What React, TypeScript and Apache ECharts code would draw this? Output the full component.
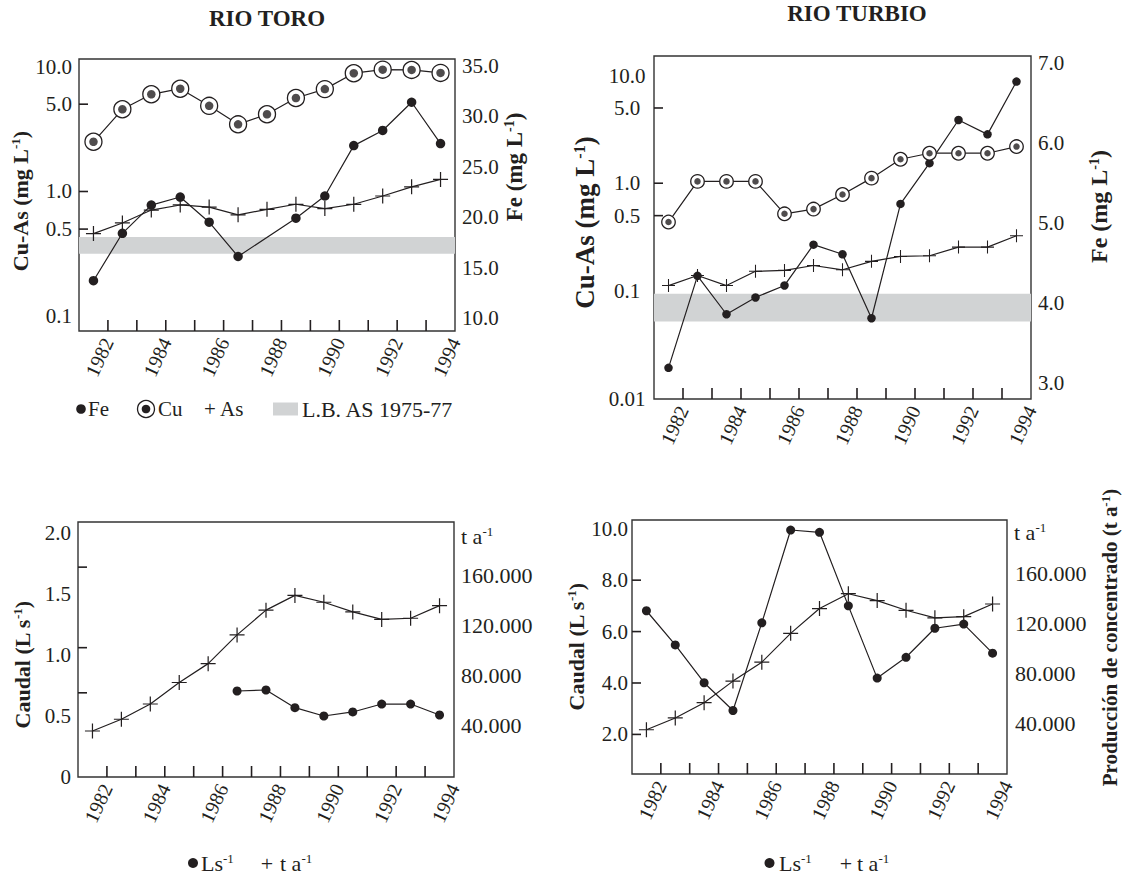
import React, { useEffect, useRef } from 'react';
import * as echarts from 'echarts';

// ---------- data ----------
const years = [1982, 1983, 1984, 1985, 1986, 1987, 1988, 1989, 1990, 1991, 1992, 1993, 1994];
const yearLabels = [1982, 1984, 1986, 1988, 1990, 1992, 1994];

// Rio Toro (mg/L)
const toroFe = [13.7, 18.4, 21.2, 22.0, 19.5, 16.1, null, 19.9, 22.1, 27.1, 28.6, 31.4, 27.3];
const toroCu = [2.5, 4.55, 6.0, 6.65, 4.85, 3.45, 4.15, 5.6, 6.6, 8.85, 9.45, 9.4, 8.9];
const toroAs = [0.46, 0.56, 0.71, 0.78, 0.75, 0.65, 0.72, 0.79, 0.73, 0.79, 0.92, 1.09, 1.25];
const toroBand = [0.318, 0.432];

// Rio Turbio (mg/L)
const turbioFe = [3.19, 4.34, 3.86, 4.07, 4.22, 4.73, 4.61, 3.81, 5.24, 5.75, 6.29, 6.11, 6.77];
const turbioCu = [0.436, 1.04, 1.04, 1.04, 0.52, 0.575, 0.786, 1.115, 1.67, 1.9, 1.9, 1.9, 2.19];
const turbioAs = [0.112, 0.139, 0.112, 0.152, 0.155, 0.172, 0.157, 0.188, 0.209, 0.212, 0.255, 0.255, 0.325];
const turbioBand = [0.052, 0.094];

// Caudal (L/s)
const toroCaudal = [null, null, null, null, null, 0.705, 0.713, 0.568, 0.5, 0.533, 0.598, 0.598, 0.508];
const turbioCaudal = [6.81, 5.48, 4.01, 2.93, 6.34, 9.95, 9.86, 7.0, 4.19, 5.0, 6.13, 6.29, 5.16];

// Producción de concentrado (t/a)
const produccion = [35200, 44600, 56800, 74000, 89100, 112100, 131900, 143700, 138200, 130500, 124500, 125400, 135500];

// axis tick labels
const cuAsLabelsToro = [0.1, 0.5, 1, 5, 10];
const cuAsLabelsTurbio = [0.01, 0.1, 0.5, 1, 5, 10];
const feLabelsToro = [10, 15, 20, 25, 30, 35];
const feLabelsTurbio = [3, 4, 5, 6, 7];
const caudalLabelsToro = [0, 0.5, 1, 1.5, 2];
const caudalLabelsTurbio = [2, 4, 6, 8, 10];
const prodLabels = [40000, 80000, 120000, 160000];

// inner tick marks on the left axes
const cuAsTicks = [0.5, 1, 5];
const caudalTicksToro = [0.69, 1.06, 1.72];
const caudalTicksTurbio = [2, 4, 6, 8];

// ---------- style ----------
const FONT = "'Liberation Serif', 'Times New Roman', Times, serif";
const INK = '#231f20';
const BAND = '#d1d3d4';
const PLUS = 'path://M7.35,0H8.65V7.35H16V8.65H8.65V16H7.35V8.65H0V7.35H7.35Z';

const pairs = (vals: (number | null)[]) => years.map((y, i) => [y, vals[i]]);
// ticks sit between consecutive years
const yearTicks = years.slice(0, years.length - 1).map((y) => y + 0.5);

const richBold = (size: number) => ({
  b: { fontFamily: FONT, fontWeight: 'bold', fontSize: size, color: INK },
  s: { fontFamily: FONT, fontWeight: 'bold', fontSize: Math.round(size * 0.6), color: INK, verticalAlign: 'top' },
});

const fmt1 = (v: number) => v.toFixed(1);

const xAxis = (g: number) => ({
  type: 'value',
  gridIndex: g,
  position: 'bottom',
  min: 1981.5,
  max: 1994.5,
  axisLine: { show: false, onZero: false },
  splitLine: { show: false },
  axisTick: { show: false },
  axisLabel: {
    customValues: yearLabels.map((y) => y + 0.5),
    formatter: (v: number) => String(Math.floor(v)),
    rotate: 65,
    margin: 8,
    fontFamily: FONT,
    fontSize: 20,
    color: INK,
  },
});

const yBase = (g: number, pos: 'left' | 'right') => ({
  gridIndex: g,
  position: pos,
  axisLine: { show: false },
  splitLine: { show: false },
  axisTick: { show: false },
  nameLocation: 'middle',
  nameRotate: 90,
});

const labelStyle = { fontFamily: FONT, fontSize: 21, color: INK };

const lineCommon = {
  type: 'line',
  silent: true,
  lineStyle: { color: INK, width: 1.2 },
  z: 3,
};

const dotSeries = (name: string, xi: number, yi: number, vals: (number | null)[], size: number) => ({
  ...lineCommon,
  name,
  xAxisIndex: xi,
  yAxisIndex: yi,
  data: pairs(vals),
  connectNulls: true,
  symbol: 'circle',
  symbolSize: size,
  itemStyle: { color: INK, borderWidth: 0 },
});

const plusSeries = (name: string, xi: number, yi: number, vals: number[], size: number) => ({
  ...lineCommon,
  name,
  xAxisIndex: xi,
  yAxisIndex: yi,
  data: pairs(vals),
  symbol: PLUS,
  symbolSize: size,
  itemStyle: { color: INK, borderWidth: 0 },
});

const ringSeries = (name: string, xi: number, yi: number, vals: number[], ring: number, dot: number) => [
  {
    ...lineCommon,
    name,
    xAxisIndex: xi,
    yAxisIndex: yi,
    data: pairs(vals),
    symbol: 'circle',
    symbolSize: ring,
    itemStyle: { color: '#ffffff', borderColor: INK, borderWidth: 1.3 },
  },
  {
    type: 'scatter',
    name,
    silent: true,
    xAxisIndex: xi,
    yAxisIndex: yi,
    data: pairs(vals),
    symbol: 'circle',
    symbolSize: dot,
    itemStyle: { color: INK },
    z: 4,
  },
];

const bandSeries = (xi: number, yi: number, band: number[]) => ({
  type: 'line',
  name: 'L.B. AS 1975-77',
  silent: true,
  xAxisIndex: xi,
  yAxisIndex: yi,
  data: [],
  z: 1,
  markArea: {
    silent: true,
    itemStyle: { color: BAND },
    data: [[{ yAxis: band[0] }, { yAxis: band[1] }]],
  },
});

// short inner tick marks on the bottom edge, placed through the x axis scale
const xTickSeries = (g: number, yi: number, yRef: number) => ({
  type: 'custom',
  name: 'x ticks',
  silent: true,
  xAxisIndex: g,
  yAxisIndex: yi,
  z: 6,
  clip: false,
  data: yearTicks.map((v) => [v, yRef]),
  renderItem: (params: any, api: any) => {
    const cs = params.coordSys;
    const p = api.coord([api.value(0), api.value(1)]);
    const b = cs.y + cs.height;
    return {
      type: 'line',
      shape: { x1: p[0], y1: b, x2: p[0], y2: b - 11 },
      style: { stroke: INK, lineWidth: 1.6 },
    };
  },
});

// short inner tick marks on the left edge, placed through the left y axis scale
const yTickSeries = (g: number, yi: number, ticks: number[]) => ({
  type: 'custom',
  name: 'y ticks',
  silent: true,
  xAxisIndex: g,
  yAxisIndex: yi,
  z: 6,
  clip: false,
  data: ticks.map((v) => [1988, v]),
  renderItem: (params: any, api: any) => {
    const cs = params.coordSys;
    const p = api.coord([api.value(0), api.value(1)]);
    return {
      type: 'line',
      shape: { x1: cs.x, y1: p[1], x2: cs.x + 9, y2: p[1] },
      style: { stroke: INK, lineWidth: 1.6 },
    };
  },
});

const txt = (x: number, y: number, text: string, size: number, extra: any = {}) => ({
  type: 'text',
  x,
  y,
  silent: true,
  style: {
    text,
    fontFamily: FONT,
    fontSize: size,
    fill: INK,
    align: 'left',
    textAlign: 'left',
    verticalAlign: 'middle',
    textVerticalAlign: 'middle',
    ...extra,
  },
});

const richSup = (size: number) => ({
  a: { fontFamily: FONT, fontSize: size, fill: INK, color: INK },
  s: { fontFamily: FONT, fontSize: Math.round(size * 0.6), fill: INK, color: INK, verticalAlign: 'top' },
});

const supText = (x: number, y: number, base: string, sup: string, size: number) =>
  txt(x, y, `{a|${base}}{s|${sup}}`, size, { rich: richSup(size) });

const option: any = {
  animation: false,
  backgroundColor: '#ffffff',
  textStyle: { fontFamily: FONT },
  grid: [
    { left: 79, top: 59, width: 376, height: 272 },
    { left: 654, top: 56, width: 377, height: 343 },
    { left: 78, top: 522, width: 376, height: 255 },
    { left: 632, top: 520, width: 375, height: 254 },
  ].map((g) => ({
    ...g,
    show: true,
    borderColor: '#333333',
    borderWidth: 1.4,
    backgroundColor: 'transparent',
    containLabel: false,
  })),
  xAxis: [xAxis(0), xAxis(1), xAxis(2), xAxis(3)],
  yAxis: [
    // 0: Rio Toro Cu-As (log)
    {
      ...yBase(0, 'left'),
      type: 'log',
      logBase: 10,
      min: 0.0764,
      max: 11.5,
      name: '{b|Cu-As (mg L}{s|-1}{b|)}',
      nameGap: 47,
      nameTextStyle: { padding: [0, 12, 0, 0], rich: richBold(22) },
      axisLabel: { ...labelStyle, margin: 7, customValues: cuAsLabelsToro, formatter: fmt1 },
    },
    // 1: Rio Toro Fe
    {
      ...yBase(0, 'right'),
      type: 'value',
      min: 8.71,
      max: 35.69,
      name: '{b|Fe (mg L}{s|-1}{b|)}',
      nameGap: 46,
      nameTextStyle: { padding: [0, 0, 0, 56], rich: richBold(23) },
      axisLabel: { ...labelStyle, margin: 7, customValues: feLabelsToro, formatter: fmt1 },
    },
    // 2: Rio Turbio Cu-As (log)
    {
      ...yBase(1, 'left'),
      type: 'log',
      logBase: 10,
      min: 0.0099,
      max: 15.2,
      name: '{b|Cu-As (mg L}{s|-1}{b|)}',
      nameGap: 56,
      nameTextStyle: { padding: [0, 0, 0, 10], rich: richBold(27) },
      axisLabel: {
        ...labelStyle,
        margin: 27,
        align: 'center',
        customValues: cuAsLabelsTurbio,
        formatter: (v: number) => (v < 0.05 ? '0.01' : v.toFixed(1)),
      },
    },
    // 3: Rio Turbio Fe
    {
      ...yBase(1, 'right'),
      type: 'value',
      min: 2.8,
      max: 7.09,
      name: '{b|Fe (mg L}{s|-1}{b|)}',
      nameGap: 56,
      nameTextStyle: { padding: [0, 0, 0, 42], rich: richBold(24) },
      axisLabel: { ...labelStyle, margin: 7, customValues: feLabelsTurbio, formatter: fmt1 },
    },
    // 4: Rio Toro caudal
    {
      ...yBase(2, 'left'),
      type: 'value',
      min: 0,
      max: 2.09,
      name: '{b|Caudal (L s}{s|-1}{b|)}',
      nameGap: 45,
      nameTextStyle: { padding: [0, 31, 0, 0], rich: richBold(22) },
      axisLabel: {
        ...labelStyle,
        margin: 7,
        customValues: caudalLabelsToro,
        formatter: (v: number) => (v === 0 ? '0' : v.toFixed(1)),
      },
    },
    // 5: Rio Toro producción
    {
      ...yBase(2, 'right'),
      type: 'value',
      min: -1600,
      max: 202400,
      axisLabel: {
        ...labelStyle,
        fontSize: 22,
        margin: 7,
        customValues: prodLabels,
        formatter: (v: number) => (v / 1000).toFixed(3),
      },
    },
    // 6: Rio Turbio caudal
    {
      ...yBase(3, 'left'),
      type: 'value',
      min: 0.46,
      max: 10.34,
      name: '{b|Caudal (L s}{s|-1}{b|)}',
      nameGap: 41,
      nameTextStyle: { rich: richBold(22) },
      axisLabel: { ...labelStyle, margin: 4, customValues: caudalLabelsTurbio, formatter: fmt1 },
    },
    // 7: Rio Turbio producción
    {
      ...yBase(3, 'right'),
      type: 'value',
      min: -80,
      max: 202500,
      name: '{b|Producción de concentrado (t a}{s|-1}{b|)}',
      nameGap: 92,
      nameTextStyle: { padding: [0, 0, 0, 19], rich: richBold(21) },
      axisLabel: {
        ...labelStyle,
        fontSize: 22,
        margin: 8,
        customValues: prodLabels,
        formatter: (v: number) => (v / 1000).toFixed(3),
      },
    },
  ],
  series: [
    // Rio Toro quality
    bandSeries(0, 0, toroBand),
    dotSeries('Fe', 0, 1, toroFe, 9.5),
    ...ringSeries('Cu', 0, 0, toroCu, 17, 8.5),
    plusSeries('As', 0, 0, toroAs, 15),
    xTickSeries(0, 0, 1),
    yTickSeries(0, 0, cuAsTicks),
    // Rio Turbio quality
    bandSeries(1, 2, turbioBand),
    dotSeries('Fe', 1, 3, turbioFe, 8.5),
    ...ringSeries('Cu', 1, 2, turbioCu, 13.5, 6.5),
    plusSeries('As', 1, 2, turbioAs, 13),
    xTickSeries(1, 2, 1),
    yTickSeries(1, 2, cuAsTicks),
    // Rio Toro flow / production
    plusSeries('t a-1', 2, 5, produccion, 15),
    dotSeries('Ls-1', 2, 4, toroCaudal, 9),
    xTickSeries(2, 4, 1),
    yTickSeries(2, 4, caudalTicksToro),
    // Rio Turbio flow / production
    dotSeries('Ls-1', 3, 6, turbioCaudal, 9),
    plusSeries('t a-1', 3, 7, produccion, 15),
    xTickSeries(3, 6, 5),
    yTickSeries(3, 6, caudalTicksTurbio),
  ],
  graphic: [
    // titles
    txt(267, 18, 'RIO TORO', 23, { fontWeight: 'bold', align: 'center', textAlign: 'center' }),
    txt(857, 13, 'RIO TURBIO', 23, { fontWeight: 'bold', align: 'center', textAlign: 'center' }),
    // unit labels at top of right axes
    supText(461, 536, 't a', '-1', 22),
    supText(1014, 532, 't a', '-1', 22),
    // legend Rio Toro quality
    { type: 'circle', silent: true, shape: { cx: 81, cy: 409, r: 4.8 }, style: { fill: INK } },
    txt(88, 409, 'Fe', 21),
    { type: 'circle', silent: true, shape: { cx: 146, cy: 409, r: 8.5 }, style: { fill: '#fff', stroke: INK, lineWidth: 1.3 } },
    { type: 'circle', silent: true, shape: { cx: 146, cy: 409, r: 4.3 }, style: { fill: INK } },
    txt(158, 409, 'Cu', 21),
    txt(210, 409, '+', 21, { align: 'center', textAlign: 'center' }),
    txt(220, 409, 'As', 21),
    { type: 'rect', silent: true, shape: { x: 273, y: 402.5, width: 25, height: 13 }, style: { fill: BAND } },
    txt(302, 409, 'L.B. AS 1975-77', 22),
    // legend Rio Toro flow
    { type: 'circle', silent: true, shape: { cx: 193, cy: 863, r: 5 }, style: { fill: INK } },
    supText(201, 863, 'Ls', '-1', 22),
    txt(267, 863, '+', 22, { align: 'center', textAlign: 'center' }),
    supText(280, 863, 't a', '-1', 22),
    // legend Rio Turbio flow
    { type: 'circle', silent: true, shape: { cx: 769.5, cy: 863, r: 5 }, style: { fill: INK } },
    supText(779, 863, 'Ls', '-1', 22),
    txt(846, 863, '+', 22, { align: 'center', textAlign: 'center' }),
    supText(857, 863, 't a', '-1', 22),
  ],
};

export default function App() {
  const ref = useRef<HTMLDivElement>(null);
  useEffect(() => {
    document.body.style.margin = '0';
    const chart = echarts.init(ref.current as HTMLDivElement, null, { renderer: 'svg' });
    chart.setOption(option);
    return () => chart.dispose();
  }, []);
  return <div ref={ref} style={{ width: 1125, height: 876, background: '#fff' }} />;
}
